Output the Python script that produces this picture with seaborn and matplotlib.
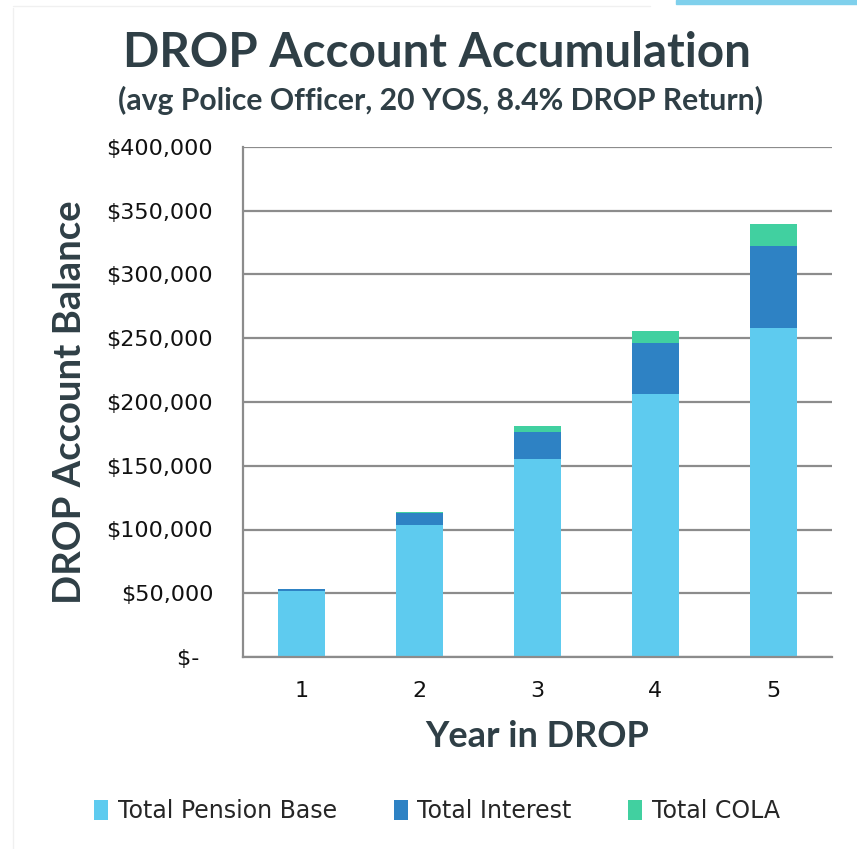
import numpy as np
import pandas as pd
import matplotlib
matplotlib.use("Agg")
import matplotlib.pyplot as plt
import seaborn as sns
from matplotlib.patches import Patch, Rectangle
from matplotlib.lines import Line2D

# values
years = ["1", "2", "3", "4", "5"]
pension_base = [51600, 103400, 155000, 206500, 257800]
interest = [2100, 9400, 21300, 39800, 64900]
cola = [0, 1300, 5000, 9400, 16600]

series_names = ["Total Pension Base", "Total Interest", "Total COLA"]
colors = ["#5ecbef", "#2e82c4", "#41d0a0"]
yticks = [0, 50000, 100000, 150000, 200000, 250000, 300000, 350000, 400000]

df = pd.DataFrame({"year": years, "base": pension_base,
                   "interest": interest, "cola": cola})
df["lvl1"] = df["base"]
df["lvl2"] = df["base"] + df["interest"]
df["lvl3"] = df["lvl2"] + df["cola"]

sns.set_style("white")
plt.rcParams["font.family"] = ["DejaVu Sans"]

title_col = "#2f3f46"
grid_col = "#8c8c8c"

fig = plt.figure(figsize=(8.57, 8.49), dpi=100)
ax = fig.add_axes([243 / 857, 1 - 657 / 849, 589 / 857, 510 / 849])

# stacked bars: draw cumulative totals back to front
for col, c in zip(["lvl3", "lvl2", "lvl1"], colors[::-1]):
    sns.barplot(data=df, x="year", y=col, color=c, width=0.4,
                saturation=1, ax=ax, linewidth=0, zorder=3)

ax.set_xlim(-0.5, 4.5)
ax.set_ylim(0, 400000)
ax.set_yticks(yticks)
ax.set_yticklabels(["$-  "] + [f"${v:,.0f}" for v in yticks[1:]])
ax.yaxis.grid(True, color=grid_col, linewidth=1.6, zorder=0)
ax.set_axisbelow(True)

ax.set_xticks(range(5))
ax.set_xticklabels(years)
ax.set_xticks(np.arange(-0.5, 5, 1), minor=True)
ax.tick_params(axis="x", which="major", length=0, pad=17, labelsize=16,
               labelcolor="#111111")
ax.tick_params(axis="x", which="minor", length=6, width=1.6,
               color=grid_col, direction="out")
ax.tick_params(axis="y", length=4.5, width=1.6, color=grid_col, pad=17,
               labelsize=16, labelcolor="#111111", direction="out")

for s in ["top", "right"]:
    ax.spines[s].set_visible(False)
for s in ["left", "bottom"]:
    ax.spines[s].set_color(grid_col)
    ax.spines[s].set_linewidth(1.6)
    ax.spines[s].set_zorder(4)

ax.set_xlabel("Year in DROP", fontsize=26, fontweight="bold",
              color=title_col, family="Lato", labelpad=14)
ax.set_ylabel("DROP Account Balance", fontsize=27.5, fontweight="bold",
              color=title_col, family="Lato", labelpad=14)

fig.text(437 / 857, 1 - 53 / 849, "DROP Account Accumulation",
         ha="center", va="center", fontsize=34.3, fontweight="bold",
         color=title_col, family="Lato")
fig.text(441 / 857, 1 - 100 / 849, "(avg Police Officer, 20 YOS, 8.4% DROP Return)",
         ha="center", va="center", fontsize=21.7, fontweight="bold",
         color=title_col, family="Lato")

handles = [Patch(facecolor=c, edgecolor="none") for c in colors]
fig.legend(handles, series_names, loc="center", ncol=3,
           bbox_to_anchor=(437 / 857, 1 - 811 / 849), frameon=False,
           fontsize=17, handlelength=0.6, handleheight=0.9,
           handletextpad=0.4, columnspacing=2.4)

# slide decoration
fig.patches.append(Rectangle((676 / 857, 1 - 4 / 849), 181 / 857, 4 / 849,
                             transform=fig.transFigure, color="#7fd0ec"))
fig.lines.append(Line2D([13 / 857, 13 / 857], [0, 1 - 8 / 849],
                        transform=fig.transFigure, color="#f0f0f0", lw=1))
fig.lines.append(Line2D([13 / 857, 650 / 857], [1 - 6 / 849, 1 - 6 / 849],
                        transform=fig.transFigure, color="#f0f0f0", lw=1))

fig.savefig("out.png", dpi=100)
